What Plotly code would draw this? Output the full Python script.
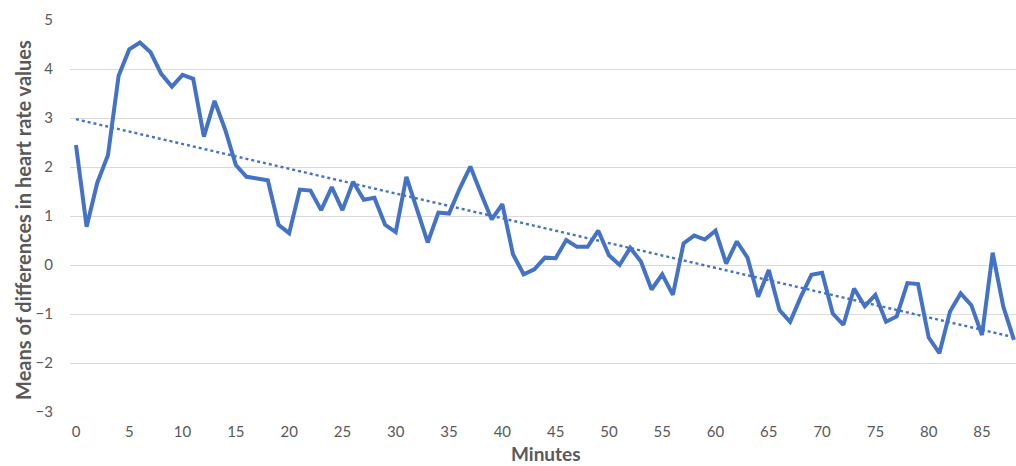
import numpy as np
import plotly.graph_objects as go

minutes = list(range(89))
mean_diff = [
    2.45, 0.78, 1.68, 2.24, 3.86, 4.40, 4.54, 4.34, 3.90, 3.64,
    3.88, 3.80, 2.62, 3.35, 2.76, 2.04, 1.80, 1.76, 1.73, 0.82,
    0.65, 1.54, 1.52, 1.12, 1.59, 1.12, 1.70, 1.33, 1.37, 0.82,
    0.67, 1.80, 1.12, 0.46, 1.07, 1.05, 1.56, 2.01, 1.46, 0.93,
    1.24, 0.22, -0.19, -0.09, 0.15, 0.14, 0.51, 0.37, 0.37, 0.70,
    0.20, 0.00, 0.35, 0.07, -0.50, -0.19, -0.61, 0.44, 0.60, 0.52,
    0.70, 0.03, 0.48, 0.15, -0.65, -0.10, -0.92, -1.16, -0.65, -0.20,
    -0.16, -0.99, -1.22, -0.48, -0.84, -0.61, -1.16, -1.05, -0.37, -0.39,
    -1.48, -1.80, -0.95, -0.58, -0.82, -1.43, 0.25, -0.85, -1.53,
]
x_ticks = list(range(0, 90, 5))
y_ticks = [-3, -2, -1, 0, 1, 2, 3, 4, 5]

# linear trendline fitted to the series
slope, intercept = np.polyfit(minutes, mean_diff, 1)
trend = [intercept + slope * m for m in minutes]

BLUE = "#4472C4"
GRAY = "#595959"
FONT = "Lato"

fig = go.Figure()
fig.add_trace(go.Scatter(x=minutes, y=mean_diff, mode="lines",
                         line=dict(color=BLUE, width=4), showlegend=False))
fig.add_trace(go.Scatter(x=minutes, y=trend, mode="lines",
                         line=dict(color=BLUE, width=2.4, dash="dot"), showlegend=False))

fig.update_layout(
    width=1016, height=466,
    margin=dict(l=70, r=0, t=20, b=54),
    plot_bgcolor="white", paper_bgcolor="white",
    font=dict(family=FONT, color=GRAY, size=15),
    xaxis=dict(range=[-0.56, 88.19], tickvals=x_ticks, showgrid=False,
               zeroline=False, showline=False, ticks="", automargin=False,
               ticklabelstandoff=9, tickfont=dict(size=15, color=GRAY)),
    yaxis=dict(range=[-3, 5], tickvals=y_ticks, showgrid=True,
               gridcolor="#D9D9D9", gridwidth=1, zeroline=False,
               showline=False, ticks="", automargin=False,
               ticklabelstandoff=16, tickfont=dict(size=15, color=GRAY)),
    annotations=[
        dict(text="<b>Means of differences in heart rate values</b>",
             xref="paper", yref="paper", x=-47/946, y=0.49, textangle=-90,
             xanchor="center", yanchor="middle", showarrow=False,
             font=dict(family=FONT, size=20, color=GRAY)),
        dict(text="<b>Minutes</b>", xref="paper", yref="paper",
             x=0.503, y=-54/392, xanchor="center", yanchor="bottom",
             borderpad=0, showarrow=False,
             font=dict(family=FONT, size=19, color=GRAY)),
    ],
)

fig.write_html("out.html", config={"displayModeBar": False},
               post_script="document.body.style.margin='0';document.body.style.overflow='hidden';")
